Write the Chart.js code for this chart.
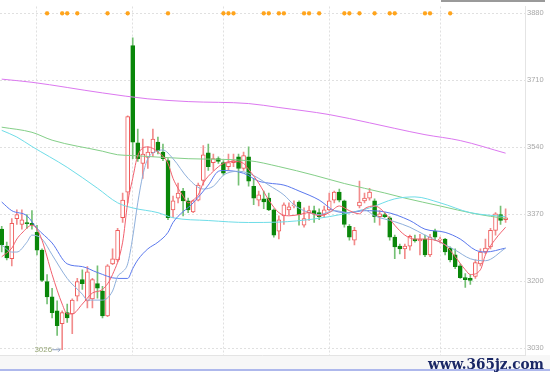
<!DOCTYPE html>
<html>
<head>
<meta charset="utf-8">
<script src="https://cdn.jsdelivr.net/npm/chart.js@4.4.0/dist/chart.umd.min.js"></script>
<style>
  html, body { margin: 0; padding: 0; background: #fff; }
</style>
</head>
<body>
<canvas id="kline" width="550" height="378"></canvas>
<script>
// daily candles (index 0..100)
const opens = [3332,3289,3257,3359,3344,3349,3347,3324,3279,3199,
  3160,3125,3092,3120,3117,3162,3204,3150,3155,3194,
  3175,3112,3244,3254,3361,3426,3798,3551,3499,3514,
  3526,3553,3528,3506,3381,3411,3429,3404,3376,3406,
  3456,3526,3501,3511,3501,3491,3501,3516,3486,3516,
  3441,3406,3409,3411,3381,3327,3366,3381,3391,3401,
  3342,3374,3379,3374,3369,3381,3406,3426,3404,3339,
  3304,3391,3404,3411,3404,3364,3369,3361,3312,3289,
  3282,3289,3307,3302,3307,3267,3327,3304,3307,3284,
  3267,3239,3209,3207,3212,3244,3274,3287,3329,3369,
  3356];
const closes = [3292,3259,3347,3369,3356,3346,3342,3279,3202,3160,
  3120,3087,3120,3107,3152,3199,3194,3224,3204,3182,
  3112,3239,3257,3329,3406,3618,3553,3511,3523,3528,
  3561,3531,3511,3361,3404,3424,3404,3381,3404,3444,
  3521,3491,3511,3504,3474,3501,3506,3486,3519,3454,
  3411,3419,3401,3381,3317,3356,3394,3389,3394,3369,
  3359,3379,3371,3364,3381,3404,3426,3406,3344,3312,
  3329,3401,3411,3426,3364,3371,3364,3312,3287,3282,
  3289,3314,3302,3307,3267,3312,3312,3307,3274,3254,
  3237,3209,3204,3202,3247,3274,3284,3329,3371,3354,
  3361];
const highs = [3339,3299,3359,3381,3381,3369,3379,3342,3282,3217,
  3182,3150,3125,3142,3155,3207,3229,3237,3207,3239,
  3187,3242,3282,3334,3424,3620,3818,3586,3561,3541,
  3586,3566,3548,3511,3416,3449,3436,3411,3406,3449,
  3544,3548,3523,3516,3506,3523,3523,3523,3528,3541,
  3461,3429,3429,3424,3384,3366,3399,3399,3404,3404,
  3386,3391,3391,3384,3391,3424,3429,3434,3406,3344,
  3337,3454,3424,3436,3409,3379,3374,3364,3317,3294,
  3294,3317,3317,3319,3317,3319,3332,3312,3309,3287,
  3282,3244,3219,3217,3254,3282,3307,3334,3374,3391,
  3384];
const lows = [3274,3254,3239,3344,3332,3334,3332,3267,3199,3142,
  3107,3062,3026,3095,3067,3150,3179,3132,3132,3157,
  3107,3110,3242,3249,3349,3399,3511,3504,3461,3486,
  3516,3523,3506,3356,3361,3399,3366,3374,3374,3404,
  3444,3481,3481,3499,3469,3481,3491,3444,3481,3441,
  3394,3391,3384,3379,3312,3307,3344,3369,3386,3342,
  3337,3354,3349,3356,3361,3379,3399,3401,3337,3304,
  3292,3386,3399,3406,3349,3342,3361,3304,3257,3269,
  3257,3279,3299,3267,3262,3262,3304,3297,3267,3249,
  3232,3207,3184,3192,3207,3239,3269,3282,3317,3344,
  3349];

// moving averages, read at selected candle indices
const ma5Idx = [0,2,3,4,6,7,8,10,12,13,14,16,18,20,22,24,25,26,27,29,31,33,34,36,37,38,39,40,42,44,46,48,49,51,53,55,57,59,61,63,65,67,69,71,72,74,76,78,80,82,84,86,88,90,92,93,95,96,98,100];
const ma5 = [3262,3284,3307,3322,3342,3332,3304,3217,3142,3117,3117,3142,3170,3179,3217,3299,3399,3461,3519,3541,3528,3499,3461,3416,3399,3406,3419,3449,3479,3499,3504,3499,3484,3449,3406,3374,3366,3369,3374,3366,3374,3391,3379,3371,3384,3391,3374,3342,3317,3307,3307,3304,3292,3262,3229,3217,3229,3267,3307,3337];

const ma10Idx = [0,2,3,5,6,8,10,13,16,17,20,22,23,24,25,26,27,28,29,31,32,34,37,40,42,44,47,49,51,53,56,58,60,63,66,69,72,74,78,81,84,87,90,93,96,100];
const ma10 = [3292,3274,3274,3299,3317,3307,3267,3207,3167,3152,3152,3175,3212,3224,3244,3312,3399,3469,3511,3531,3533,3511,3461,3434,3441,3469,3479,3474,3461,3444,3419,3394,3379,3369,3379,3374,3381,3366,3351,3337,3317,3299,3279,3257,3252,3284];

const ma20Idx = [0,2,5,7,10,13,16,19,23,25,26,27,29,31,33,34,38,41,43,44,48,51,53,56,59,63,66,69,72,76,81,84,88,91,94,96,100];
const ma20 = [3401,3379,3366,3334,3297,3244,3237,3222,3207,3207,3232,3254,3282,3299,3324,3349,3399,3444,3479,3481,3474,3454,3449,3444,3429,3406,3379,3374,3379,3376,3354,3332,3324,3307,3279,3274,3284];

const ma60Idx = [0,3,6,13,19,23,26,31,34,41,49,55,62,68,73,78,82,87,93,100];
const ma60 = [3583,3566,3542,3489,3436,3399,3386,3374,3361,3354,3349,3350,3358,3371,3386,3409,3414,3399,3374,3364];

const ma120Idx = [0,6,10,20,23,26,37,49,55,62,68,76,80,87,94,100];
const ma120 = [3591,3578,3558,3530,3521,3519,3511,3506,3491,3469,3448,3424,3411,3391,3371,3359];

const ma250Idx = [0,6,20,29,37,49,55,65,73,78,84,91,100];
const ma250 = [3713,3705,3678,3663,3656,3651,3641,3623,3602,3588,3572,3557,3525];

// signal marks along the top
const starIdx = [9,12,13,15,21,25,33,44,45,46,52,53,55,56,60,61,63,68,69,71,74,77,78,84,85,89];
const starLevel = 3880;

const yTicks = [3030, 3200, 3370, 3540, 3710, 3880];
const monthIdx = [7, 26, 44, 65, 87];

const RED = '#ef5b5b', GREEN = '#0a870a';
const up = closes.map((c, i) => c >= opens[i]);

function maLine(idx, vals, color) {
  return {
    type: 'line',
    data: idx.map((x, k) => ({ x: x, y: vals[k] })),
    borderColor: color,
    borderWidth: 1,
    pointRadius: 0,
    cubicInterpolationMode: 'monotone',
    order: -1
  };
}

const lowIdx = lows.indexOf(Math.min(...lows));

const decor = {
  id: 'decor',
  beforeDraw(chart) {
    const c = chart.ctx;
    const b = chart.chartArea.bottom;
    c.save();
    c.fillStyle = '#fff';
    c.fillRect(0, 0, chart.width, chart.height);
    c.fillStyle = '#f7f7f7';
    c.fillRect(0, b, chart.width, 14);
    c.strokeStyle = '#e4e4e4';
    c.lineWidth = 1;
    c.beginPath(); c.moveTo(0, b + 0.5); c.lineTo(chart.chartArea.right, b + 0.5); c.stroke();
    c.strokeStyle = '#93a0e6';
    c.lineWidth = 1.5;
    c.beginPath(); c.moveTo(0, b + 15); c.lineTo(chart.width, b + 15); c.stroke();
    // scroll thumb top right
    c.fillStyle = '#9a9a9a';
    c.fillRect(441, 0, 104, 2);
    c.restore();
  },
  afterDraw(chart) {
    const c = chart.ctx;
    const px = chart.scales.x.getPixelForValue(lowIdx);
    const py = chart.scales.y.getPixelForValue(lows[lowIdx]);
    c.save();
    // lowest price marker
    c.strokeStyle = '#8ea0c0';
    c.lineWidth = 1;
    c.beginPath(); c.moveTo(px - 10, py); c.lineTo(px - 2, py); c.stroke();
    c.beginPath(); c.moveTo(px - 4, py - 2); c.lineTo(px - 2, py); c.lineTo(px - 4, py + 2); c.stroke();
    c.fillStyle = '#98a878';
    c.font = '8px "Liberation Sans"';
    c.textAlign = 'right';
    c.textBaseline = 'middle';
    c.fillText(String(lows[lowIdx]), px - 10, py);

    // watermark
    const txt = 'www.365jz.com';
    c.font = 'bold 15px "DejaVu Serif"';
    const w = c.measureText(txt).width;
    c.translate(428, 369);
    c.scale(116 / w, 1);
    c.fillStyle = '#1a2766';
    c.textAlign = 'left';
    c.textBaseline = 'alphabetic';
    c.fillText(txt, 0, 0);
    c.restore();
  }
};

new Chart(document.getElementById('kline'), {
  type: 'line',
  data: {
    datasets: [
      maLine(ma5Idx, ma5, '#f2606e'),
      maLine(ma10Idx, ma10, '#8fb0dc'),
      maLine(ma20Idx, ma20, '#5a78ee'),
      maLine(ma60Idx, ma60, '#6fdde8'),
      maLine(ma120Idx, ma120, '#84cf88'),
      maLine(ma250Idx, ma250, '#dc78f0'),
      {
        type: 'line',
        data: starIdx.map(x => ({ x: x, y: starLevel })),
        showLine: false,
        pointStyle: 'star',
        pointRadius: 2.2,
        pointBorderWidth: 1.3,
        borderColor: '#ffa41c',
        backgroundColor: '#ffa41c',
        order: -2
      },
      {
        type: 'bar',
        data: opens.map((o, i) => ({ x: i, y: [o, closes[i]] })),
        backgroundColor: up.map(u => u ? '#ffffff' : GREEN),
        borderColor: up.map(u => u ? RED : GREEN),
        borderWidth: 1,
        borderSkipped: false,
        barThickness: 4,
        grouped: false,
        order: 0
      },
      {
        type: 'bar',
        data: highs.map((h, i) => ({ x: i, y: [lows[i], h] })),
        backgroundColor: up.map(u => u ? '#f28c8c' : '#74c074'),
        borderWidth: 0,
        barThickness: 1,
        grouped: false,
        order: 1
      }
    ]
  },
  options: {
    responsive: false,
    devicePixelRatio: 1,
    animation: false,
    layout: { autoPadding: false, padding: { left: 0, right: 0, top: 0, bottom: 23 } },
    plugins: { legend: { display: false }, tooltip: { enabled: false } },
    scales: {
      x: {
        type: 'linear',
        min: -0.34,
        max: 103.85,
        offset: false,
        afterBuildTicks: ax => { ax.ticks = monthIdx.map(v => ({ value: v })); },
        afterFit: ax => { ax.height = 0; },
        grid: { color: '#e0e0e0', drawTicks: false, offset: false },
        border: { display: false, dash: [2, 2] },
        ticks: { display: false }
      },
      y: {
        position: 'right',
        min: 3012.6,
        max: 3897.4,
        afterBuildTicks: ax => { ax.ticks = yTicks.map(v => ({ value: v })); },
        afterFit: ax => { ax.width = 25; },
        grid: { color: '#e0e0e0', drawTicks: false },
        border: { display: true, color: '#e4e4e4', dash: [2, 2] },
        ticks: {
          color: '#a8a8a8',
          padding: 2,
          font: { size: 7.5, family: 'Liberation Sans' },
          callback: v => String(v)
        }
      }
    }
  },
  plugins: [decor]
});
</script>
</body>
</html>
